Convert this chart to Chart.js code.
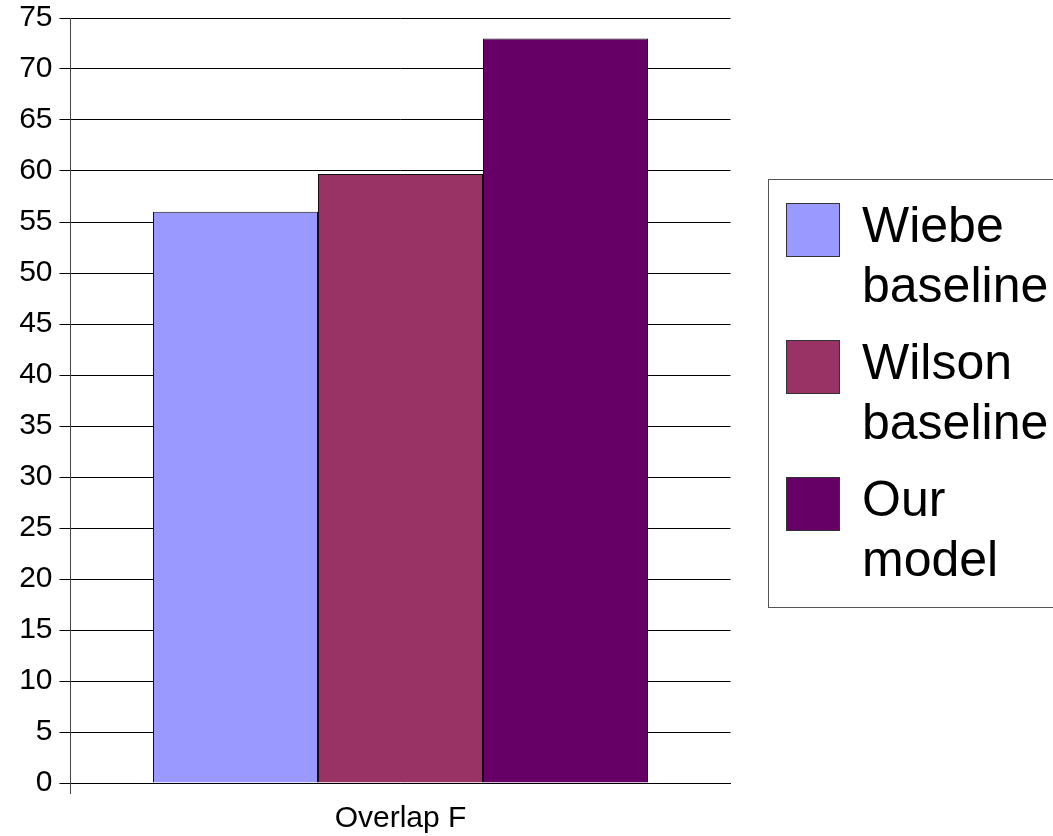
<!DOCTYPE html>
<html>
<head>
<meta charset="utf-8">
<script src="https://cdn.jsdelivr.net/npm/chart.js@4"></script>
<style>
  html, body { margin: 0; padding: 0; background: #ffffff; }
  #wrap { width: 1053px; height: 836px; position: relative; }
</style>
</head>
<body>
<div id="wrap"><canvas id="c"></canvas></div>
<script>
// Overlap F scores per system
const categories = ['Overlap F'];
const seriesNames = ['Wiebe baseline', 'Wilson baseline', 'Our model'];
const wiebeBaseline = [56.0];
const wilsonBaseline = [59.7];
const ourModel = [73.0];
const seriesColors = ['#9999ff', '#993366', '#660066'];

const FONT = '"Liberation Sans", Arial, Helvetica, sans-serif';

// Boxed legend on the right, each entry's label wrapped one word per line
const boxedLegend = {
  id: 'boxedLegend',
  afterDraw(chart) {
    const ctx = chart.ctx;
    const left = 768;
    const top = 179;
    ctx.save();
    ctx.strokeStyle = '#555555';
    ctx.lineWidth = 1;
    ctx.strokeRect(left + 0.5, top + 0.5, chart.width - left + 10, 428);
    ctx.font = '50px ' + FONT;
    ctx.textAlign = 'left';
    ctx.textBaseline = 'alphabetic';
    chart.data.datasets.forEach((ds, i) => {
      const sy = top + 24 + i * 137;
      ctx.fillStyle = ds.backgroundColor;
      ctx.fillRect(left + 18, sy, 54, 54);
      ctx.strokeStyle = '#333333';
      ctx.strokeRect(left + 18.5, sy + 0.5, 53, 53);
      ctx.fillStyle = '#000000';
      ds.label.split(' ').forEach((word, j) => {
        ctx.fillText(word, left + 94, sy + 39 + j * 60);
      });
    });
    ctx.restore();
  }
};

const values = [wiebeBaseline, wilsonBaseline, ourModel];

new Chart(document.getElementById('c'), {
  type: 'bar',
  data: {
    labels: categories,
    datasets: seriesNames.map((name, i) => ({
      label: name,
      data: values[i],
      backgroundColor: seriesColors[i],
      borderColor: '#111111',
      borderWidth: 1,
      inflateAmount: 0,
      categoryPercentage: 0.75,
      barPercentage: 1.0
    }))
  },
  options: {
    responsive: true,
    maintainAspectRatio: false,
    animation: false,
    layout: { padding: { top: 18, right: 322.5, left: 0, bottom: 0 } },
    plugins: {
      legend: { display: false },
      tooltip: { enabled: false }
    },
    scales: {
      x: {
        afterFit(scale) { scale.height = 53; },
        grid: {
          display: true,
          drawOnChartArea: false,
          tickLength: 11,
          color: (c) => (c.index === 0 ? '#444444' : 'rgba(0,0,0,0)')
        },
        border: { color: '#000000', width: 1 },
        ticks: {
          color: '#000000',
          padding: 7,
          font: { family: FONT, size: 30 }
        }
      },
      y: {
        min: 0,
        max: 75,
        afterFit(scale) { scale.width = 70.5; },
        ticks: {
          stepSize: 5,
          color: '#000000',
          padding: 7,
          font: { family: FONT, size: 30, lineHeight: 0.7 }
        },
        grid: {
          color: '#000000',
          lineWidth: 1,
          tickLength: 11
        },
        border: { color: '#444444', width: 1 }
      }
    }
  },
  plugins: [boxedLegend]
});
</script>
</body>
</html>
